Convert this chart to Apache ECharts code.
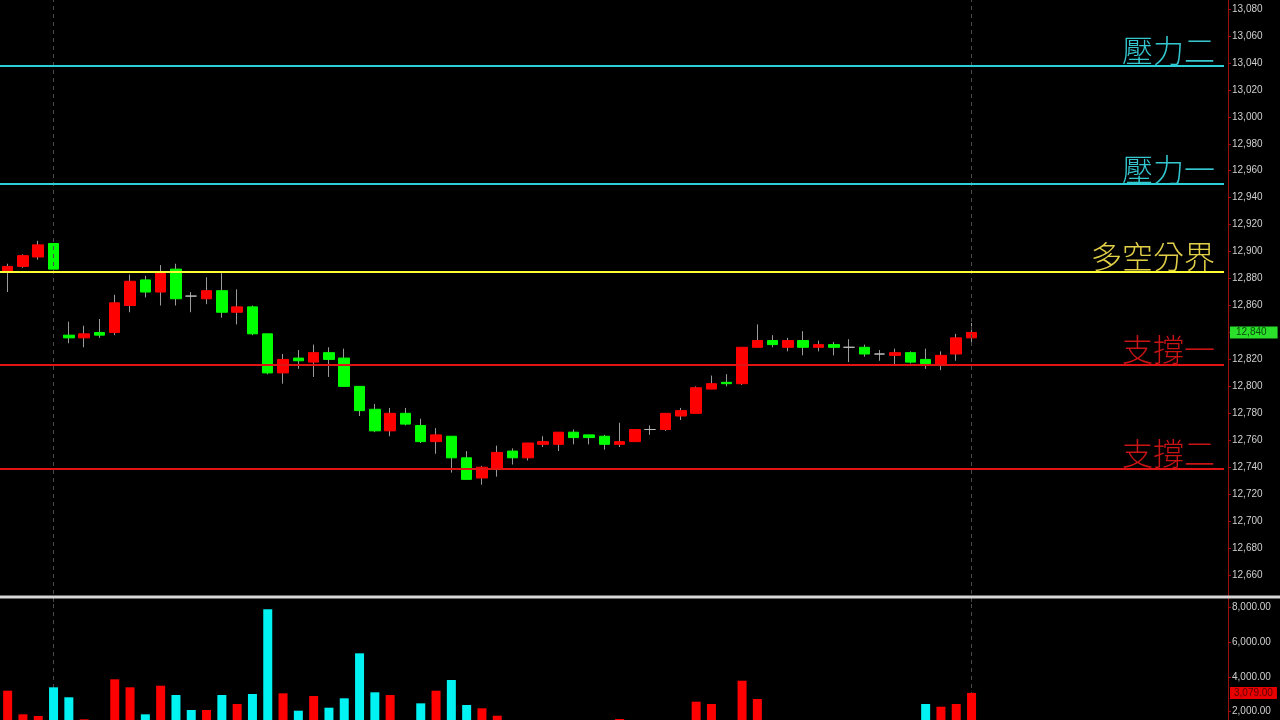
<!DOCTYPE html>
<html>
<head>
<meta charset="utf-8">
<style>
  html, body { margin: 0; padding: 0; background: #000; }
  #main { width: 1280px; height: 720px; }
</style>
<script src="https://cdn.jsdelivr.net/npm/echarts@6/dist/echarts.min.js"></script>
</head>
<body>
<div id="main"></div>
<script>
// K棒資料 (開, 收, 低, 高)
var opens = [12885, 12889, 12896, 12906, 12838, 12836, 12840, 12840, 12860, 12879,
  12870, 12887, 12867, 12865, 12871, 12855, 12859, 12839, 12810, 12821,
  12818, 12825, 12821, 12800, 12783, 12767, 12780, 12771, 12759, 12763,
  12747, 12732, 12739, 12752, 12747, 12757, 12757, 12766, 12764, 12763,
  12757, 12759, 12768, 12768, 12778, 12780, 12798, 12803, 12802, 12829,
  12834, 12829, 12834, 12829, 12831, 12829, 12829, 12824, 12823, 12825,
  12820, 12816, 12824, 12836];
var closes = [12889, 12897, 12905, 12887, 12836, 12839, 12838, 12862, 12878, 12870,
  12885, 12865, 12867, 12871, 12855, 12859, 12839, 12810, 12820, 12819,
  12825, 12820, 12800, 12782, 12767, 12780, 12772, 12759, 12764, 12747,
  12731, 12740, 12751, 12747, 12758, 12759, 12766, 12762, 12762, 12757,
  12759, 12768, 12768, 12780, 12782, 12799, 12802, 12802, 12829, 12834,
  12831, 12834, 12829, 12831, 12829, 12829, 12824, 12824, 12825, 12818,
  12817, 12823, 12836, 12840];
var lows = [12870, 12888, 12894, 12887, 12832, 12829, 12836, 12838, 12855, 12866,
  12860, 12860, 12855, 12861, 12851, 12846, 12838, 12809, 12802, 12813,
  12807, 12807, 12800, 12778, 12766, 12763, 12771, 12758, 12750, 12736,
  12731, 12727, 12733, 12742, 12745, 12755, 12752, 12757, 12757, 12753,
  12755, 12759, 12764, 12767, 12775, 12780, 12798, 12800, 12801, 12829,
  12829, 12826, 12823, 12826, 12823, 12818, 12822, 12819, 12816, 12817,
  12813, 12812, 12819, 12832];
var highs = [12891, 12898, 12908, 12906, 12848, 12845, 12850, 12868, 12883, 12882,
  12890, 12891, 12870, 12881, 12884, 12872, 12860, 12839, 12824, 12827,
  12831, 12829, 12828, 12800, 12787, 12784, 12784, 12776, 12769, 12763,
  12752, 12741, 12756, 12754, 12758, 12763, 12766, 12768, 12764, 12764,
  12773, 12768, 12771, 12780, 12784, 12800, 12808, 12809, 12829, 12846,
  12838, 12836, 12841, 12834, 12833, 12835, 12831, 12827, 12828, 12826,
  12828, 12826, 12839, 12847];
// 成交量
var volumes = [3207, 1850, 1753, 3402, 2828, 1563, 1150, 3862, 3402, 1850,
  3494, 2960, 2098, 2098, 2960, 2443, 3017, 7885, 3057, 2057,
  2902, 2230, 2770, 5356, 3115, 2960, 1200, 2481, 3207, 3822,
  2385, 2195, 1770, 1100, 1300, 900, 1250, 1000, 1000, 1200,
  1580, 1350, 700, 1300, 1100, 2575, 2443, 1250, 3782, 2730,
  1200, 1000, 1350, 900, 1050, 1300, 1150, 800, 950, 1400,
  2443, 2287, 2443, 3079];
// 壓力 / 支撐
var levelNames = ['壓力二', '壓力一', '多空分界', '支撐一', '支撐二'];
var levelValues = [13038, 12950, 12885, 12816, 12739];
var dividerIdx = [3, 63];
var slotCount = 80;

var levelLine = ['#2ccfd8', '#2ccfd8', '#ffff33', '#e01414', '#e01414'];
var levelText = ['#35c6cf', '#35c6cf', '#e2cf48', '#c81414', '#c81414'];

var chart = echarts.init(document.getElementById('main'));

var cats = [];
for (var i = 0; i < slotCount; i++) { cats.push(i + ''); }

function fmt(v, dec) {
  return v.toLocaleString('en-US', { minimumFractionDigits: dec, maximumFractionDigits: dec });
}

var wickData = [], bodyData = [], volData = [];
for (var k = 0; k < opens.length; k++) {
  wickData.push([opens[k], closes[k], lows[k], highs[k]]);
  bodyData.push([opens[k], closes[k], Math.min(opens[k], closes[k]), Math.max(opens[k], closes[k])]);
  volData.push({
    value: volumes[k],
    itemStyle: { color: closes[k] > opens[k] ? '#ff0000' : '#00f2f2' }
  });
}

var levelMarks = levelValues.map(function (v, n) {
  return {
    yAxis: v,
    lineStyle: { color: levelLine[n], width: 2, type: 'solid' },
    label: {
      show: true,
      position: 'insideEndTop',
      distance: [9, 0],
      formatter: levelNames[n],
      color: levelText[n],
      fontSize: 31,
      fontWeight: 300,
      fontFamily: 'Noto Sans CJK TC'
    }
  };
});
function dividers() {
  return dividerIdx.map(function (d) {
    return { xAxis: d, lineStyle: { color: '#4a4a4a', width: 1, type: [4, 4] }, label: { show: false } };
  });
}
// 最新價標籤
function lastTag(value, text, bg, fg, pad) {
  return {
    yAxis: value,
    lineStyle: { color: 'rgba(0,0,0,0)', width: 0 },
    label: {
      show: true, position: 'end', distance: 6,
      formatter: text,
      color: fg, backgroundColor: bg,
      fontSize: 10, fontFamily: 'Liberation Sans',
      padding: pad
    }
  };
}
var lastIdx = closes.length - 1;

var option = {
  backgroundColor: '#000',
  animation: false,
  grid: [
    { left: 0, right: 56, top: 0, bottom: 118 },
    { left: 0, right: 56, top: 600, bottom: 0 }
  ],
  xAxis: [
    { type: 'category', gridIndex: 0, data: cats, show: false },
    { type: 'category', gridIndex: 1, data: cats, show: false }
  ],
  yAxis: [
    {
      type: 'value', gridIndex: 0, position: 'right', offset: 4,
      min: 12640, max: 13086.7, interval: 20,
      axisLine: { show: true, lineStyle: { color: '#9a1010', width: 1 } },
      axisTick: { show: true, length: 3, lineStyle: { color: '#9a1010' } },
      axisLabel: {
        color: '#cfcfcf', fontSize: 10, fontFamily: 'Liberation Sans', margin: 4,
        showMinLabel: false, showMaxLabel: false,
        formatter: function (v) { return fmt(v, 0); }
      },
      splitLine: { show: false }
    },
    {
      type: 'value', gridIndex: 1, position: 'right', offset: 4,
      min: 1523, max: 8420, splitNumber: 3,
      axisLine: { show: true, lineStyle: { color: '#9a1010', width: 1 } },
      axisTick: { show: true, length: 3, lineStyle: { color: '#9a1010' } },
      axisLabel: {
        color: '#cfcfcf', fontSize: 10, fontFamily: 'Liberation Sans', margin: 4,
        showMinLabel: false, showMaxLabel: false,
        formatter: function (v) { return fmt(v, 2); }
      },
      splitLine: { show: false }
    }
  ],
  series: [
    {
      name: 'wick', type: 'candlestick', xAxisIndex: 0, yAxisIndex: 0,
      data: wickData, barWidth: 1,
      itemStyle: {
        color: '#9a9a9a', color0: '#9a9a9a', borderColor: '#9a9a9a', borderColor0: '#9a9a9a',
        borderColorDoji: '#9a9a9a', borderWidth: 1
      },
      markLine: {
        silent: true, symbol: 'none', animation: false,
        data: dividers().concat(levelMarks)
      }
    },
    {
      name: 'body', type: 'candlestick', xAxisIndex: 0, yAxisIndex: 0,
      data: bodyData, barWidth: 11, z: 3,
      itemStyle: {
        color: '#ff0000', color0: '#00ff00', borderColor: '#ff0000', borderColor0: '#00ff00',
        borderColorDoji: '#bdbdbd', borderWidth: 1
      },
      markLine: {
        silent: true, symbol: 'none', animation: false,
        data: [lastTag(closes[lastIdx], fmt(closes[lastIdx], 0), '#2be02b', '#0b4a0b', [1, 11, 1, 6])]
      }
    },
    {
      name: 'volume-divider', type: 'line', xAxisIndex: 1, yAxisIndex: 1,
      data: [], z: 1,
      markLine: { silent: true, symbol: 'none', animation: false, z: 1, data: dividers() }
    },
    {
      name: 'volume', type: 'bar', xAxisIndex: 1, yAxisIndex: 1,
      data: volData, barWidth: 9, z: 3,
      markLine: {
        silent: true, symbol: 'none', animation: false,
        data: [lastTag(volumes[lastIdx], fmt(volumes[lastIdx], 2), '#e80000', '#5a0000', [1, 4, 1, 4])]
      }
    }
  ],
  graphic: [{
    type: 'line', z: 100,
    shape: { x1: 0, y1: 597, x2: 1280, y2: 597 },
    style: { stroke: '#d6d6d6', lineWidth: 3 }
  }]
};

chart.setOption(option);
</script>
</body>
</html>
